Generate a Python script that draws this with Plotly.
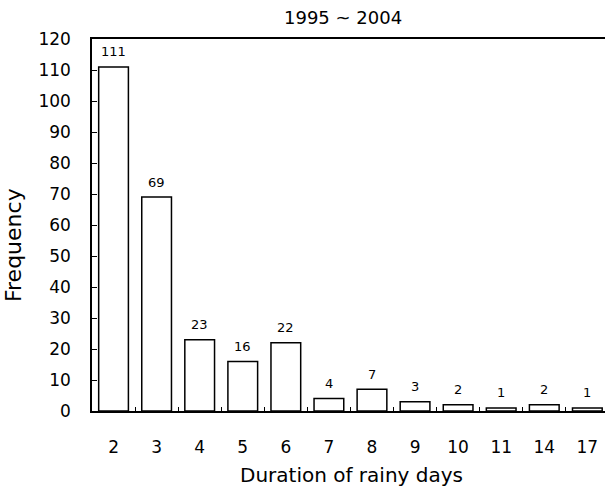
import plotly.graph_objects as go

categories = ["2", "3", "4", "5", "6", "7", "8", "9", "10", "11", "14", "17"]
frequency = [111, 69, 23, 16, 22, 4, 7, 3, 2, 1, 2, 1]
y_ticks = list(range(0, 121, 10))

FONT = "DejaVu Sans, Arial"

fig = go.Figure(
    go.Bar(
        x=categories,
        y=frequency,
        width=0.69,
        marker=dict(color="white", line=dict(color="black", width=1.5)),
        cliponaxis=False,
    )
)

for i, v in enumerate(frequency):
    fig.add_annotation(
        x=i, y=v, text=str(v), showarrow=False,
        yanchor="middle", yshift=15,
        font=dict(size=13, color="black", family=FONT),
    )

fig.add_annotation(
    text="1995 ~ 2004", xref="paper", yref="paper",
    x=(343 - 92) / 513, y=1 + (39 - 17) / 372,
    xanchor="center", yanchor="middle", showarrow=False,
    font=dict(size=18, family=FONT, color="black"),
)
fig.add_annotation(
    text="Duration of rainy days", xref="paper", yref="paper",
    x=(351 - 92) / 513, y=-(475 - 411) / 372,
    xanchor="center", yanchor="middle", showarrow=False,
    font=dict(size=20, family=FONT, color="black"),
)
fig.add_annotation(
    text="Frequency", xref="paper", yref="paper",
    x=-(92 - 14) / 513, y=(411 - 245) / 372, textangle=-90,
    xanchor="center", yanchor="middle", showarrow=False,
    font=dict(size=22, family=FONT, color="black"),
)

fig.update_layout(
    width=605,
    height=486,
    margin=dict(l=92, r=0, t=39, b=75),
    paper_bgcolor="white",
    plot_bgcolor="white",
    showlegend=False,
    font=dict(family=FONT, color="black"),
)

fig.update_xaxes(
    type="category",
    range=[-0.5, 11.41],
    showline=True, linecolor="black", linewidth=1.5, mirror=True,
    ticks="inside", tickson="boundaries", ticklen=4, tickcolor="black",
    tickfont=dict(size=17),
    ticklabelstandoff=20,
    showgrid=False, zeroline=False,
)

fig.update_yaxes(
    range=[0, 120],
    tickvals=y_ticks,
    showline=True, linecolor="black", linewidth=1.5,
    ticks="inside", ticklen=5, tickcolor="black",
    tickfont=dict(size=17),
    ticklabelstandoff=16,
    showgrid=False, zeroline=False,
)

fig.write_html("out.html")
